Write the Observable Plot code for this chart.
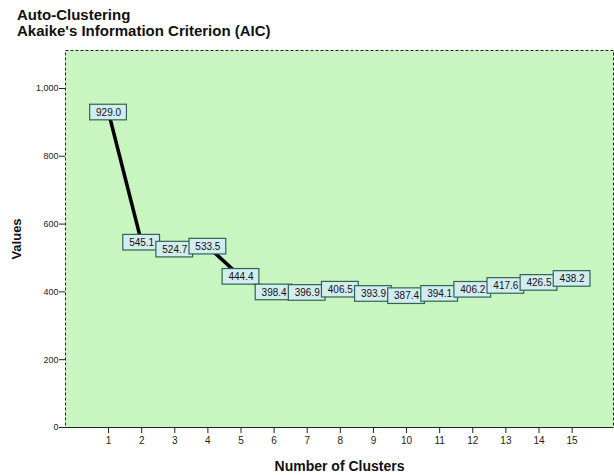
<!DOCTYPE html>
<html>
<head>
<meta charset="utf-8">
<script src="https://cdn.jsdelivr.net/npm/d3@7"></script>
<script src="https://cdn.jsdelivr.net/npm/@observablehq/plot@0.6"></script>
<style>
  body { margin: 0; background: #fff; font-family: "Liberation Sans", Arial, sans-serif; }
  #title { height: 44px; padding: 7px 0 0 17px; box-sizing: border-box; font-weight: bold; font-size: 15px; line-height: 16px; color: #111; overflow: hidden; }
  svg { display: block; }
</style>
</head>
<body>
<div id="title">Auto-Clustering<br>Akaike's Information Criterion (AIC)</div>
<div id="chart"></div>
<script>
const clusters = [1, 2, 3, 4, 5, 6, 7, 8, 9, 10, 11, 12, 13, 14, 15];
const aic = [929.0, 545.1, 524.7, 533.5, 444.4, 398.4, 396.9, 406.5, 393.9, 387.4, 394.1, 406.2, 417.6, 426.5, 438.2];
const yTicks = [0, 200, 400, 600, 800, 1000];

const data = clusters.map((c, i) => ({ x: c, y: aic[i] }));

const plot = Plot.plot({
  width: 614,
  height: 431,
  marginLeft: 65,
  marginRight: 1,
  marginTop: 6,
  marginBottom: 48,
  style: { fontFamily: "Liberation Sans, Arial, sans-serif", fontSize: "9px", color: "#222", background: "#fff" },
  x: { domain: [-0.3, 16.25], ticks: clusters, tickSize: 6, tickFormat: d => String(d), label: null },
  y: { domain: [0, 1112], ticks: yTicks, tickSize: 6, tickFormat: d3.format(","), label: null },
  marks: [
    Plot.frame({ fill: "#c8f5c0" }),
    Plot.frame({ stroke: "#222", strokeDasharray: "3,2", strokeWidth: 1 }),
    Plot.ruleY([0], { stroke: "#222", strokeWidth: 1 }),
    Plot.axisX({ ticks: clusters, tickSize: 6, tickFormat: d => String(d), label: null, tickPadding: 3, fontSize: 10 }),
    Plot.axisY({ ticks: yTicks, tickSize: 6, tickFormat: d3.format(","), label: null, tickPadding: 1, fontSize: 9 }),
    Plot.line(data, { x: "x", y: "y", stroke: "#000", strokeWidth: 3.5 }),
    Plot.rect(data, {
      x1: d => d.x - 0.555, x2: d => d.x + 0.555,
      y1: d => d.y - 23, y2: d => d.y + 23,
      fill: "#d3ecef", stroke: "#2e6650", strokeWidth: 1.2
    }),
    Plot.text(data, { x: "x", y: "y", text: d => d.y.toFixed(1), fontSize: 10, fill: "#111" }),
    Plot.text(["Number of Clusters"], { frameAnchor: "bottom", dy: 43, text: d => d, fontSize: 14, fontWeight: "bold", fill: "#111" }),
    Plot.text(["Values"], { frameAnchor: "left", textAnchor: "middle", dx: -49, rotate: -90, text: d => d, fontSize: 13, fontWeight: "bold", fill: "#111" })
  ]
});
document.getElementById("chart").appendChild(plot);
</script>
</body>
</html>
